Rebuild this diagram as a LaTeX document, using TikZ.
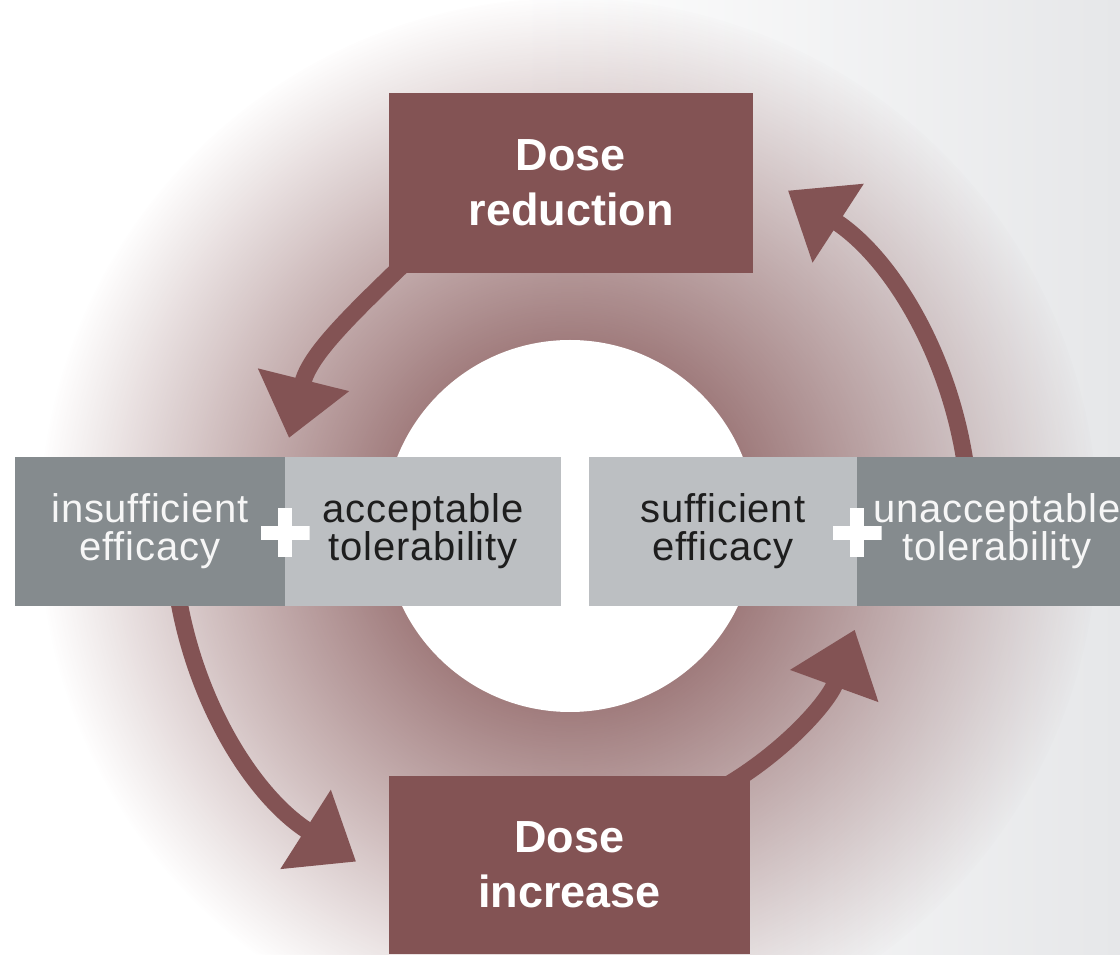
\documentclass[tikz,border=0pt]{standalone}
\usepackage{fontspec}
\setmainfont{Liberation Sans}
\newfontfamily\barfont[LetterSpace=2]{Liberation Sans}
\usetikzlibrary{arrows.meta,fadings}
\definecolor{doseRed}{RGB}{131,83,84}
\definecolor{barDark}{RGB}{133,139,142}
\definecolor{barLight}{RGB}{188,191,194}
\definecolor{textLight}{RGB}{246,246,246}
\definecolor{textDark}{RGB}{30,30,30}
\definecolor{bgRight}{RGB}{230,231,233}
\pgfdeclareradialshading{ringshading}{\pgfpointorigin}{color(0bp)=(pgftransparent!25); color(8.8bp)=(pgftransparent!25); color(16bp)=(pgftransparent!58); color(25bp)=(pgftransparent!100); color(50bp)=(pgftransparent!100)}
\pgfdeclarefading{ringfade}{\pgfuseshading{ringshading}}
\begin{document}
\begin{tikzpicture}[x=1pt,y=1pt,
  dosebox/.style={fill=doseRed, text=white, font=\fontsize{45}{55}\selectfont\bfseries, align=center, inner sep=0pt},
  barbase/.style={align=center, inner sep=0pt, minimum height=149pt, font=\barfont\fontsize{40}{38}\selectfont},
  darkbar/.style={barbase, fill=barDark, text=textLight},
  lightbar/.style={barbase, fill=barLight, text=textDark},
  cyclearrow/.style={draw=doseRed, line width=17pt, -{Triangle[length=60pt,width=90pt]}},
  plussign/.style={minimum size=49pt, inner sep=0pt, path picture={
    \fill[white] ([yshift=-7pt]path picture bounding box.west) rectangle ([yshift=7pt]path picture bounding box.east);
    \fill[white] ([xshift=-7pt]path picture bounding box.south) rectangle ([xshift=7pt]path picture bounding box.north);}}
]
\useasboundingbox (0,0) rectangle (1120,954);
\clip (0,0) rectangle (1120,954);
\fill[white] (0,0) rectangle (1120,954);
\shade[left color=white, right color=bgRight] (520,0) rectangle (1120,954);
\coordinate (C) at (570,428);
\fill[doseRed, path fading=ringfade] (C) circle[radius=530pt];
\fill[white] (C) circle[radius=186pt];

% arrows
\coordinate (a1) at (414,700);
\coordinate (t1) at (289,516);
\coordinate (a2) at ([shift={(0:400pt)}]C);
\coordinate (a3) at ([shift={(180:398pt)}]C);
\coordinate (a4) at ([shift={(-65:303pt)}]C);
\draw[cyclearrow] (a1) to[out=224, in=76] (t1);
\draw[cyclearrow] (a2) arc[start angle=0, end angle=57, radius=400pt];
\draw[cyclearrow] (a3) arc[start angle=180, end angle=237.5, radius=398pt];
\draw[cyclearrow] (a4) arc[start angle=-65, end angle=-20, radius=303pt];

% boxes
\node[dosebox, minimum width=364pt, minimum height=180pt] (reduce) at (571,771) {Dose\\reduction};
\node[dosebox, minimum width=361pt, minimum height=178pt] (increase) at (569.5,89) {Dose\\increase};

% bars
\node[darkbar, minimum width=270pt] (insuff) at (150,422.5) {insufficient\\efficacy};
\node[lightbar, minimum width=276pt] (accept) at (423,422.5) {acceptable\\tolerability};
\node[lightbar, minimum width=268pt] (suff) at (723,422.5) {sufficient\\efficacy};
\node[darkbar, minimum width=280pt] (unaccept) at (997,422.5) {unacceptable\\tolerability};

% plus signs
\node[plussign] (plusL) at (285,421) {};
\node[plussign] (plusR) at (857,421) {};
\end{tikzpicture}
\end{document}
